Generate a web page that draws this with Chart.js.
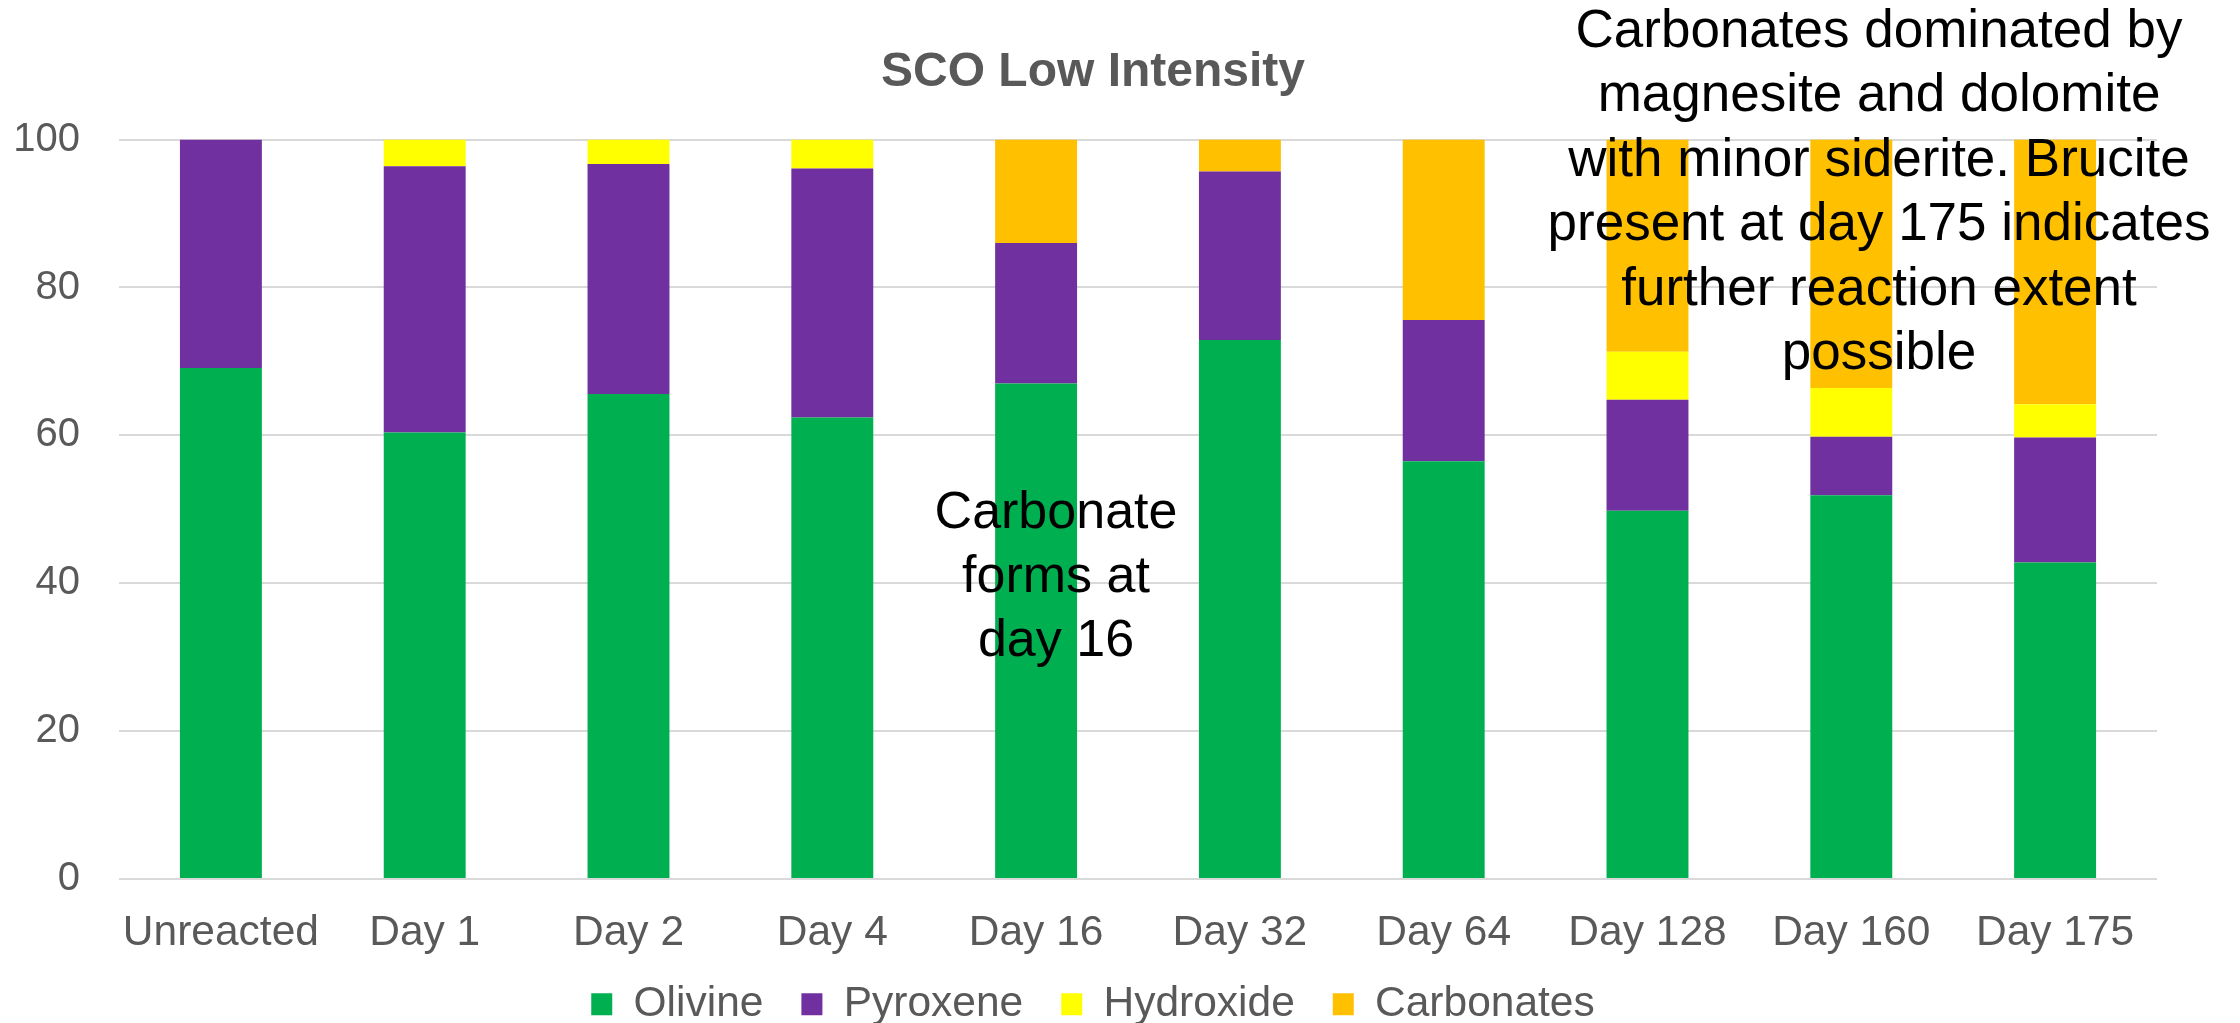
<!DOCTYPE html>
<html>
<head>
<meta charset="utf-8">
<script src="https://cdn.jsdelivr.net/npm/chart.js@4.4.1/dist/chart.umd.min.js"></script>
<style>
  html, body { margin: 0; padding: 0; background: #ffffff; }
  #wrap { width: 2240px; height: 1023px; }
</style>
</head>
<body>
<div id="wrap"><canvas id="chart" width="2240" height="1023"></canvas></div>
<script>
// Sample stages
const categories = ['Unreacted', 'Day 1', 'Day 2', 'Day 4', 'Day 16', 'Day 32', 'Day 64', 'Day 128', 'Day 160', 'Day 175'];

// Phase abundances (%) per stage
const olivine    = [69.1, 60.4, 65.6, 62.4, 67.0, 72.9, 56.5, 49.8, 51.9, 42.8];
const pyroxene   = [30.9, 36.0, 31.1, 33.7, 19.0, 22.8, 19.1, 15.0,  7.9, 16.9];
const hydroxide  = [ 0.0,  3.6,  3.3,  3.9,  0.0,  0.0,  0.0,  6.5,  6.6,  4.5];
const carbonates = [ 0.0,  0.0,  0.0,  0.0, 14.0,  4.3, 24.4, 28.7, 33.6, 35.8];

const yTicks = [0, 20, 40, 60, 80, 100];

const chartTitle = 'SCO Low Intensity';
const noteDay16 = ['Carbonate', 'forms at', 'day 16'];
const noteLate = ['Carbonates dominated by', 'magnesite and dolomite', 'with minor siderite. Brucite', 'present at day 175 indicates', 'further reaction extent', 'possible'];

const FONT = '"Liberation Sans", Arial, Helvetica, sans-serif';
const GREY = '#595959';

// Free-floating text notes drawn over the bars
const notesPlugin = {
  id: 'notes',
  afterDatasetsDraw(chart) {
    const ctx = chart.ctx;
    ctx.save();
    ctx.fillStyle = '#000000';
    ctx.textAlign = 'center';
    ctx.textBaseline = 'alphabetic';
    ctx.font = '52px ' + FONT;
    noteDay16.forEach((line, i) => ctx.fillText(line, 1056, 528 + i * 64));
    ctx.font = '53px ' + FONT;
    noteLate.forEach((line, i) => ctx.fillText(line, 1879, 47 + i * 64.4));
    ctx.restore();
  }
};

// Let tick labels extend past their scale boxes instead of being clipped
const labelRoomPlugin = {
  id: 'labelRoom',
  afterLayout(chart) {
    chart.scales.y.left = 0;
    chart.scales.x.bottom = chart.height;
  }
};

new Chart(document.getElementById('chart'), {
  type: 'bar',
  data: {
    labels: categories,
    datasets: [
      { label: 'Olivine',    data: olivine,    backgroundColor: '#00B050' },
      { label: 'Pyroxene',   data: pyroxene,   backgroundColor: '#7030A0' },
      { label: 'Hydroxide',  data: hydroxide,  backgroundColor: '#FFFF00' },
      { label: 'Carbonates', data: carbonates, backgroundColor: '#FFC000' }
    ]
  },
  options: {
    responsive: false,
    animation: false,
    devicePixelRatio: 1,
    layout: { padding: { left: 29, right: 83, top: 0, bottom: -12.5 } },
    datasets: {
      bar: { barPercentage: 0.402, categoryPercentage: 1.0, borderWidth: 0 }
    },
    scales: {
      x: {
        stacked: true,
        grid: { display: false, drawTicks: false },
        border: { display: false },
        ticks: { color: GREY, font: { family: FONT, size: 42.5 }, padding: 29, maxRotation: 0, autoSkip: false },
        afterFit(scale) { scale.height = 66; }
      },
      y: {
        stacked: true,
        min: 0,
        max: 100,
        afterBuildTicks(scale) { scale.ticks = yTicks.map(v => ({ value: v })); },
        grid: { color: '#d9d9d9', lineWidth: 2, drawTicks: false },
        border: { display: false },
        ticks: { color: GREY, font: { family: FONT, size: 40 }, padding: 39 },
        afterFit(scale) { scale.width = 90; }
      }
    },
    plugins: {
      title: {
        display: true,
        text: chartTitle,
        color: GREY,
        font: { family: FONT, size: 48, weight: 'bold' },
        padding: { top: 44, bottom: 38 }
      },
      legend: {
        position: 'bottom',
        labels: {
          color: GREY,
          font: { family: FONT, size: 42.5 },
          boxWidth: 21,
          boxHeight: 22,
          padding: 38
        }
      },
      tooltip: { enabled: false }
    }
  },
  plugins: [notesPlugin, labelRoomPlugin]
});
</script>
</body>
</html>
